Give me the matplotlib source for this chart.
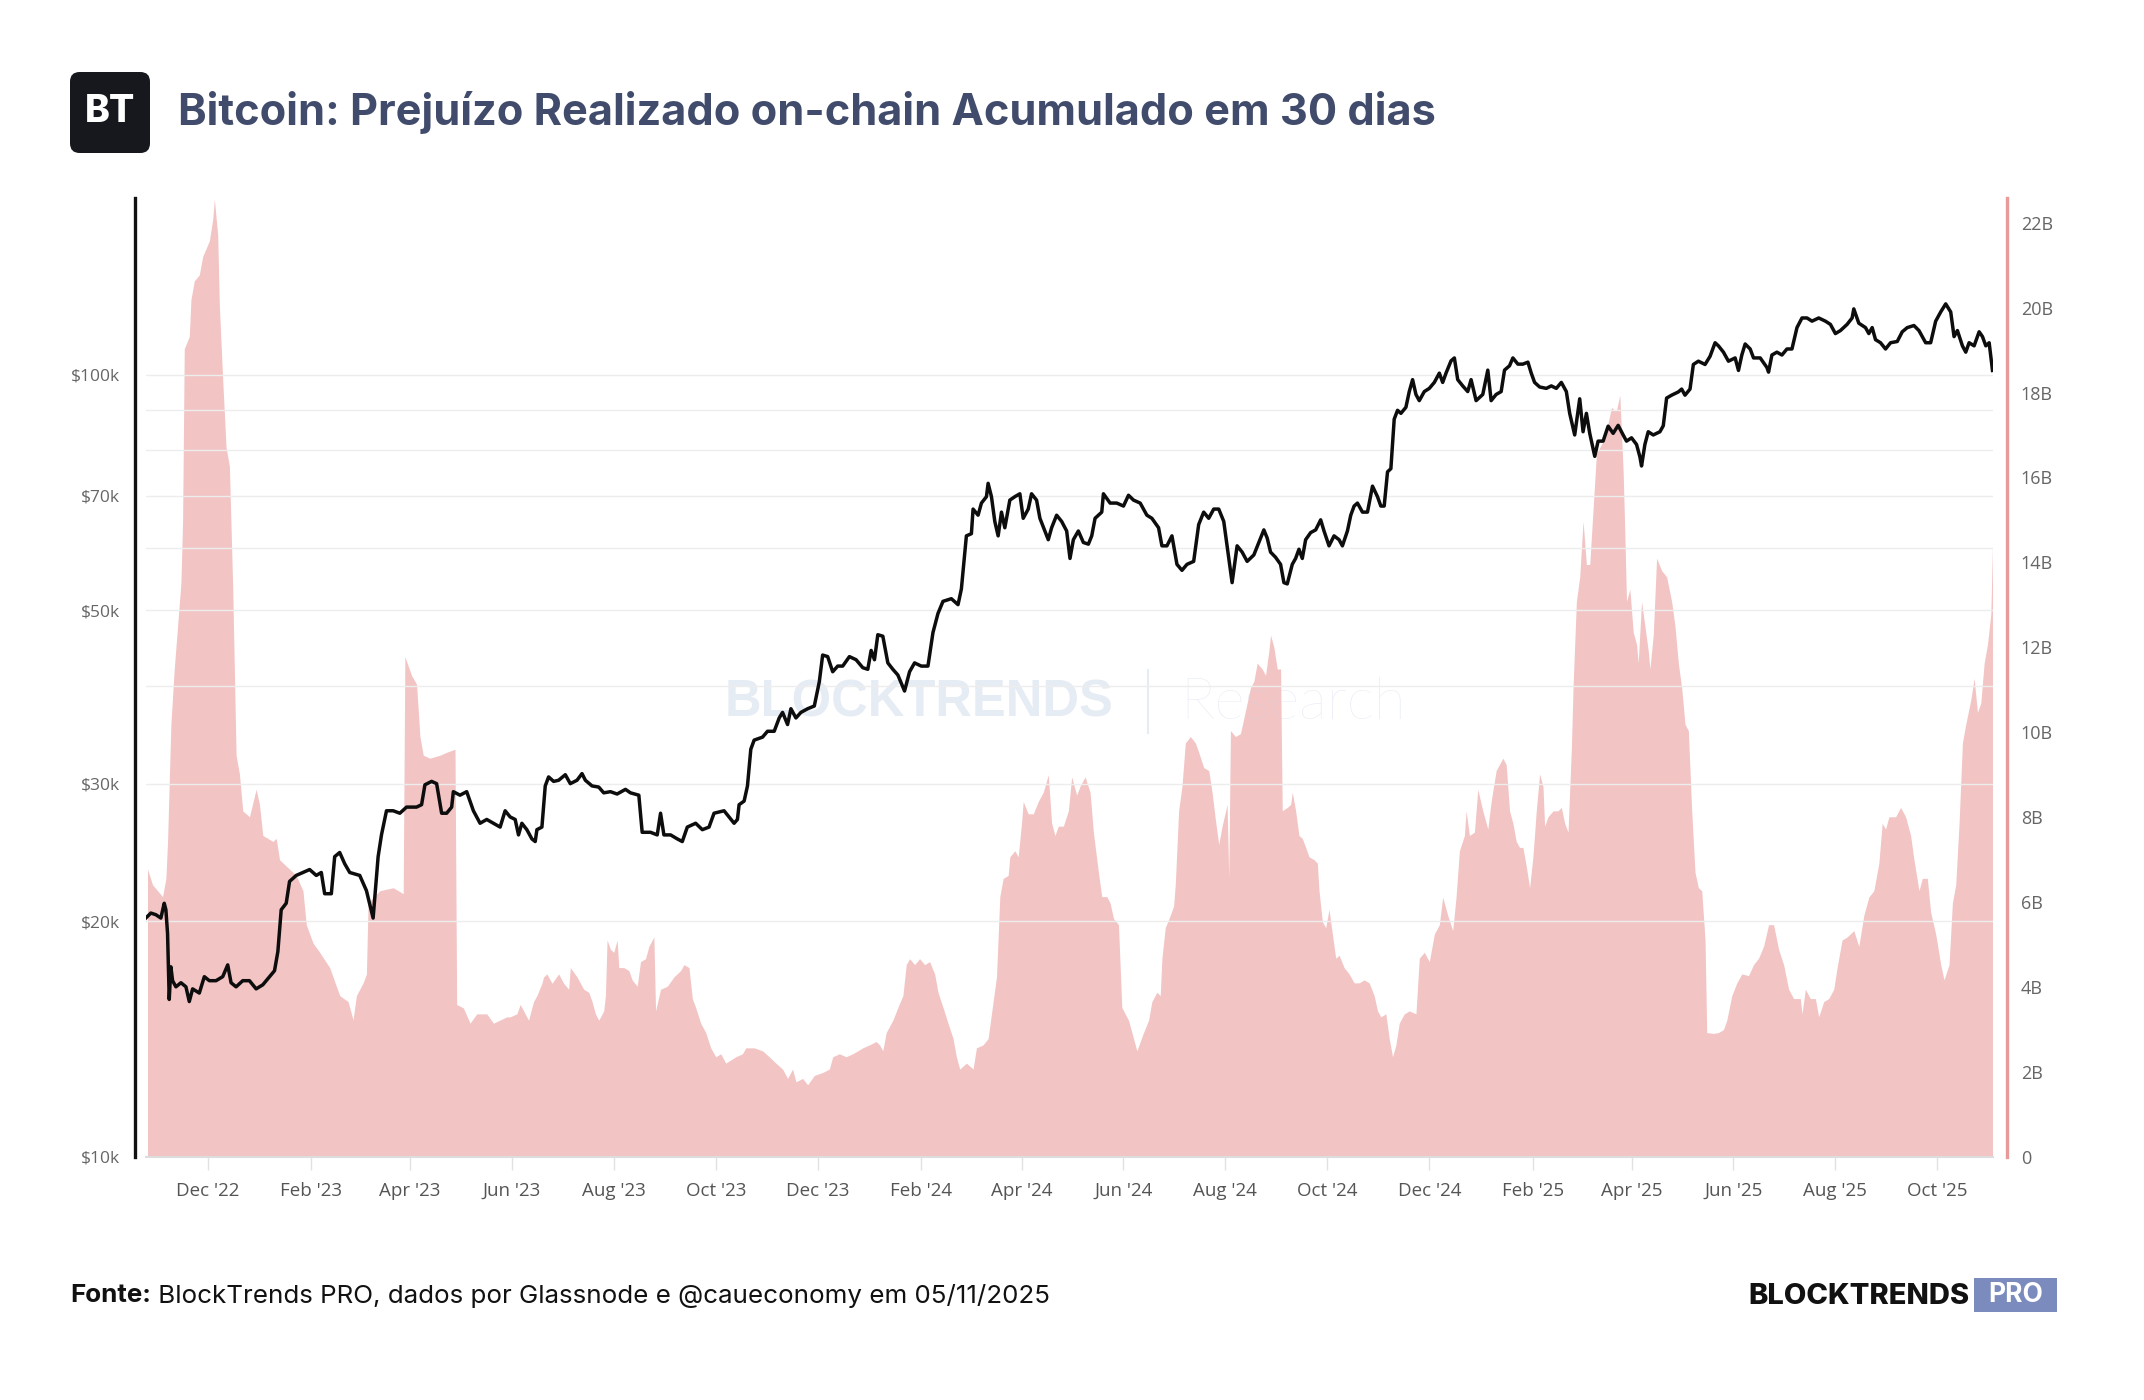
import numpy as np
import pandas as pd
import matplotlib
matplotlib.use("Agg")
import matplotlib.pyplot as plt
import matplotlib.dates as mdates
from matplotlib.patches import FancyBboxPatch
from matplotlib.lines import Line2D
from matplotlib.ticker import FixedLocator, NullFormatter

# BTC price (USD thousands), x = days since 2022-12-01
price_day = [
    -37, -34, -31, -28, -26, -25, -24, -23, -22, -21, -19, -16, -13, -11, -9, -5, -2, 1, 5, 9,
    12, 14, 17, 21, 25, 29, 33, 37, 40, 42, 44, 47, 49, 53, 57, 61, 65, 68, 70, 74,
    76, 79, 82, 85, 91, 95, 99, 102, 104, 107, 111, 115, 119, 125, 128, 130, 134, 137, 140, 143,
    146, 147, 151, 155, 159, 163, 167, 171, 175, 178,
    181, 184, 186, 188, 191, 194, 196, 197, 200, 202, 204, 207, 210, 214, 217, 221, 224, 226, 230, 234,
    237, 241, 245, 250, 253, 258, 260, 265, 269, 271, 273, 277, 281, 284, 287, 292, 296, 300, 303, 309,
    312, 315, 317, 318, 321, 323, 325, 327, 332, 335, 339, 342, 344, 347, 349, 352, 355, 359, 363, 366,
    368, 371, 374, 377, 380, 384, 388, 392, 395, 397, 399, 401, 404,
    407, 410, 413, 417, 420, 423, 427, 431, 434, 437, 440, 445, 449, 451, 454, 457, 458, 461, 463, 466,
    467, 469, 471, 473, 475, 477, 480, 483, 486, 488, 491, 493, 496, 498, 501, 503, 505, 508, 511, 514,
    516, 518, 521, 524, 527, 529, 531, 535, 536, 540, 544, 548, 551, 554, 558, 562, 565, 569, 571, 574,
    577, 580, 583, 586, 590, 593, 596, 599, 602, 605, 608, 611, 613, 616, 619, 622, 626, 629,
    632, 634, 636, 639, 642, 644, 646, 649, 651, 653, 655, 657, 660, 663, 666, 668, 671, 674, 677, 679,
    682, 684, 686, 688, 691, 694, 697, 700, 702, 704, 706, 708, 710, 712, 714, 717, 719, 721, 723, 725,
    728, 731, 734, 737, 739, 741, 744, 746, 748, 751, 754, 756, 759, 763, 766, 768, 771, 774, 776, 779,
    781, 784, 787, 790, 792, 794, 797, 801, 804, 807, 810, 813, 815, 818, 821, 823, 825, 827, 830, 832,
    835, 838, 841, 844,
    847, 849, 852, 855, 857, 858, 860, 862, 865, 869, 871, 873, 876, 880, 882, 884, 887, 889, 892, 896,
    899, 902, 904, 907, 910, 914, 916, 918, 920, 923, 925, 929, 933, 934, 936, 939, 942, 945, 948, 951,
    954, 957, 960, 964, 968, 971, 974, 977, 981, 984, 985, 988, 992, 994, 996, 998, 1001, 1004, 1007, 1011,
    1014, 1017, 1021, 1024, 1028, 1031, 1034, 1037, 1040, 1043, 1045, 1047, 1050, 1052, 1054, 1057, 1060, 1062, 1064, 1066,
    1068,
]
price_k = [
    20.2, 20.5, 20.4, 20.2, 21.1, 20.7, 19.3, 15.9, 17.5, 16.8, 16.5, 16.7, 16.5, 15.8, 16.4, 16.2, 17.0, 16.8, 16.8, 17.0,
    17.6, 16.7, 16.5, 16.8, 16.8, 16.4, 16.6, 17.0, 17.3, 18.3, 20.7, 21.1, 22.5, 22.9, 23.1, 23.3, 22.9, 23.1, 21.7, 21.7,
    24.2, 24.5, 23.7, 23.1, 22.9, 21.9, 20.2, 24.2, 25.8, 27.7, 27.7, 27.5, 28.0, 28.0, 28.2, 29.9, 30.2, 30.0, 27.5, 27.5,
    28.0, 29.3, 29.0, 29.3, 27.7, 26.7, 27.0, 26.7, 26.4, 27.7,
    27.2, 27.0, 25.8, 26.7, 26.2, 25.5, 25.3, 26.2, 26.4, 29.8, 30.6, 30.2, 30.3, 30.8, 30.0, 30.3, 30.9, 30.3, 29.8, 29.7,
    29.2, 29.3, 29.1, 29.5, 29.2, 29.0, 26.0, 26.0, 25.8, 27.5, 25.8, 25.8, 25.5, 25.3, 26.4, 26.7, 26.2, 26.4, 27.5, 27.7,
    27.2, 26.7, 27.0, 28.2, 28.5, 29.8, 33.2, 34.1, 34.4, 35.0, 35.0, 36.4, 37.0, 35.7, 37.4, 36.4, 37.0, 37.4, 37.7, 40.5,
    43.8, 43.6, 41.7, 42.4, 42.4, 43.6, 43.2, 42.2, 42.0, 44.4, 43.2, 46.5, 46.3,
    42.8, 42.0, 41.3, 39.4, 41.7, 42.8, 42.4, 42.4, 46.8, 49.5, 51.3, 51.7, 50.8, 53.2, 62.2, 62.6, 67.3, 66.1, 68.5, 69.8,
    72.6, 69.8, 64.9, 62.2, 66.7, 63.7, 69.1, 69.8, 70.4, 65.5, 67.3, 70.4, 69.1, 65.5, 63.1, 61.5, 63.7, 66.1, 64.9, 63.1,
    58.2, 61.5, 63.1, 61.0, 60.7, 62.2, 65.5, 66.7, 70.4, 68.5, 68.5, 67.9, 70.1, 69.1, 68.5, 66.1, 65.5, 63.7, 60.4, 60.4,
    62.2, 57.2, 56.2, 57.2, 57.7, 64.3, 66.7, 65.5, 67.3, 67.3, 64.9, 58.2, 54.2, 60.4, 59.3, 57.7, 58.8, 61.0,
    63.3, 61.8, 59.3, 58.4, 57.2, 54.2, 54.0, 57.2, 58.2, 59.8, 58.2, 61.5, 62.8, 63.3, 65.2, 63.1, 60.4, 62.2, 61.5, 60.4,
    63.1, 66.1, 67.9, 68.5, 66.7, 66.7, 72.0, 69.8, 67.9, 67.9, 75.1, 75.8, 87.7, 90.0, 89.2, 90.8, 95.1, 98.5, 94.3, 92.6,
    95.1, 96.0, 97.7, 100.4, 97.7, 100.4, 104.1, 105.0, 98.5, 96.7, 95.1, 98.5, 92.6, 94.3, 101.3, 92.6, 94.3, 95.1, 101.3, 102.6,
    105.0, 103.1, 103.1, 103.7, 100.4, 97.7, 96.4, 96.0, 96.7, 96.0, 97.7, 95.1, 89.2, 83.7, 93.1, 84.5, 89.2, 84.1, 78.6, 82.2,
    82.2, 85.9, 84.1, 86.1,
    83.7, 82.2, 83.0, 81.4, 78.5, 76.4, 81.4, 84.5, 83.7, 84.5, 86.0, 93.3, 94.1, 95.0, 95.8, 94.1, 95.8, 103.0, 104.0, 103.0,
    105.5, 109.8, 108.8, 106.8, 104.0, 105.0, 101.2, 105.9, 109.4, 107.8, 105.0, 105.0, 102.1, 100.7, 105.9, 106.8, 105.9, 107.8, 107.8, 114.8,
    118.1, 118.1, 117.0, 118.1, 117.0, 115.9, 112.8, 113.8, 115.9, 118.1, 121.3, 116.3, 114.8, 112.8, 114.8, 110.8, 109.8, 107.8, 109.8, 110.2,
    113.4, 114.8, 115.5, 113.8, 109.8, 109.8, 117.0, 120.2, 123.1, 120.2, 111.8, 113.8, 108.8, 106.8, 109.8, 108.8, 113.4, 111.8, 108.8, 109.8,
    101.2,
]

# 30-day accumulated realized loss (USD billions), x = days since 2022-12-01
loss_day = [
    -36, -33, -27, -25, -24, -22, -20, -18, -16, -15, -14, -11, -10, -8, -5, -3, 1, 3, 4, 6,
    7, 9, 11, 13, 15, 17, 19, 21, 25, 29, 31, 33, 39, 41, 43, 47, 53, 57, 59, 63,
    67, 73, 79, 84, 87, 89, 93, 95, 96, 103, 111, 117, 118, 122, 125, 127, 129, 133, 139, 143,
    148, 149, 153, 157, 161, 167, 171, 179,
    181, 185, 187, 190, 192, 195, 197, 200, 201, 203, 206, 210, 213, 216, 217, 221, 225, 228, 230, 232,
    234, 237, 238, 239, 241, 243, 245, 246, 249, 252, 254, 257, 259, 262, 264, 267, 268, 271, 275, 279,
    283, 285, 288, 290, 292, 295, 298, 301, 304, 307, 310, 316, 320, 322, 327, 332, 336, 340, 344, 347,
    350, 352, 356, 359, 363, 368, 372, 374, 378, 382, 386, 392, 396, 400,
    402, 404, 406, 410, 413, 416, 418, 420, 423, 426, 429, 432, 435, 437, 440, 443, 446, 448, 450, 454,
    458, 460, 464, 467, 469, 472, 474, 476, 479, 480, 483, 485, 487, 488, 491, 494, 497, 500, 503, 505,
    507, 509, 512, 515, 517, 520, 522, 525, 528, 530, 533, 535, 538, 540, 542, 545, 547, 551, 554, 556,
    560, 563, 565, 568, 570, 571, 573, 576, 578, 579, 581, 583, 585, 588, 591, 593, 596, 599, 601, 603,
    605, 607, 610, 611, 612, 615, 618, 620,
    624, 626, 628, 631, 633, 635, 636, 638, 640, 642, 643, 646, 648, 649, 651, 653, 655, 657, 659, 662,
    664, 665, 667, 669, 671, 673, 675, 677, 680, 683, 686, 689, 692, 695, 698, 700, 702, 705, 707, 709,
    711, 713, 716, 719, 723, 725, 728, 731, 734, 737, 739, 742, 745, 747, 749, 752, 753, 755, 758, 760,
    763, 766, 768, 771, 775, 777, 779, 781, 783, 785, 787, 789, 791, 793, 795, 797, 799, 800, 802, 805,
    808, 810, 812, 814, 816, 817, 819, 821, 823, 825, 827, 829, 831, 835, 838, 840, 842, 843, 845,
    847, 848, 849, 851, 853, 855, 856, 858, 860, 862, 863, 865, 867, 870, 873, 876, 878, 880, 882, 884,
    886, 888, 890, 892, 894, 896, 897, 901, 904, 907, 909, 912, 915, 918, 922, 925, 928, 931, 934, 937,
    940, 943, 946, 949, 953, 954, 956, 959, 962, 964, 967, 970, 973, 975, 978, 981, 985, 988, 991, 994,
    997, 1000, 1002, 1004, 1006, 1010, 1013, 1016, 1019, 1021, 1024, 1026, 1029, 1031, 1034, 1037, 1039, 1042, 1044, 1046,
    1048, 1050, 1052, 1055, 1057, 1059, 1061, 1063, 1065, 1067, 1068,
]
loss_bn = [
    6.78, 6.41, 6.13, 6.56, 7.43, 10.19, 11.49, 12.5, 13.52, 14.97, 19.03, 19.32, 20.19, 20.63, 20.77, 21.2, 21.57, 22.07, 22.55, 21.71,
    20.04, 18.3, 16.71, 16.27, 13.38, 9.46, 9.02, 8.15, 8.01, 8.66, 8.3, 7.57, 7.43, 7.5, 7.0, 6.85, 6.63, 6.27, 5.47, 5.04,
    4.82, 4.46, 3.8, 3.66, 3.23, 3.8, 4.1, 4.31, 5.98, 6.27, 6.34, 6.2, 11.78, 11.34, 11.13, 9.9, 9.46, 9.39, 9.46, 9.53,
    9.6, 3.59, 3.51, 3.15, 3.37, 3.37, 3.15, 3.3,
    3.30, 3.37, 3.59, 3.37, 3.22, 3.66, 3.80, 4.09, 4.24, 4.31, 4.09, 4.31, 4.09, 3.95, 4.46, 4.24, 3.95, 3.88, 3.66, 3.37,
    3.22, 3.44, 3.80, 5.11, 4.89, 4.82, 5.11, 4.46, 4.46, 4.39, 4.17, 4.02, 4.60, 4.67, 4.96, 5.18, 3.44, 3.95, 4.02, 4.24,
    4.39, 4.53, 4.46, 3.73, 3.52, 3.15, 2.93, 2.57, 2.36, 2.43, 2.21, 2.36, 2.43, 2.57, 2.57, 2.50, 2.36, 2.21, 2.07, 1.85,
    2.07, 1.77, 1.85, 1.70, 1.92, 1.99, 2.07, 2.36, 2.43, 2.36, 2.43, 2.57, 2.64, 2.72,
    2.64, 2.50, 2.93, 3.22, 3.52, 3.80, 4.53, 4.67, 4.53, 4.67, 4.53, 4.60, 4.31, 3.88, 3.52, 3.15, 2.79, 2.36, 2.07, 2.21,
    2.07, 2.57, 2.64, 2.79, 3.37, 4.24, 6.13, 6.56, 6.63, 7.07, 7.21, 7.07, 7.86, 8.37, 8.08, 8.08, 8.37, 8.59, 9.0, 7.86,
    7.57, 7.79, 7.79, 8.15, 8.95, 8.52, 8.73, 8.95, 8.59, 7.64, 6.70, 6.13, 6.13, 5.98, 5.62, 5.47, 3.52, 3.22, 2.79, 2.50,
    2.93, 3.22, 3.66, 3.88, 3.80, 4.68, 5.40, 5.69, 5.91, 6.42, 8.15, 8.73, 9.75, 9.90, 9.75, 9.53, 9.17, 9.10, 8.59, 7.94,
    7.36, 7.79, 8.30, 6.56, 10.04, 9.90, 9.97, 10.33,
    11.05, 11.2, 11.63, 11.49, 11.34, 11.92, 12.29, 12.0, 11.49, 11.49, 8.15, 8.23, 8.30, 8.59, 8.15, 7.57, 7.50, 7.29, 7.07, 7.0,
    6.92, 6.27, 5.54, 5.40, 5.83, 5.25, 4.68, 4.75, 4.46, 4.31, 4.10, 4.10, 4.17, 4.10, 3.80, 3.44, 3.30, 3.37, 2.79, 2.36,
    2.64, 3.15, 3.37, 3.44, 3.37, 4.68, 4.82, 4.60, 5.25, 5.47, 6.12, 5.69, 5.33, 6.12, 7.21, 7.57, 8.15, 7.57, 7.65, 8.66,
    8.15, 7.72, 8.37, 9.10, 9.39, 9.24, 8.15, 7.86, 7.43, 7.29, 7.29, 6.85, 6.34, 7.07, 8.15, 9.02, 8.73, 7.79, 8.01, 8.15,
    8.15, 8.23, 7.86, 7.65, 9.61, 11.05, 13.08, 13.66, 14.97, 13.95, 13.95, 15.26, 16.56, 16.85, 17.29, 17.65, 17.58, 17.58, 17.94,
    16.13, 14.68, 13.08, 13.37, 12.36, 12.07, 11.63, 13.08, 12.5, 11.92, 11.49, 12.29, 14.1, 13.81, 13.66, 13.08, 12.5, 11.63, 11.05, 10.19,
    10.04, 8.15, 6.70, 6.34, 6.27, 5.11, 2.93, 2.91, 2.93, 3.0, 3.22, 3.80, 4.10, 4.31, 4.27, 4.53, 4.68, 4.96, 5.47, 5.47,
    4.89, 4.53, 3.95, 3.73, 3.73, 3.37, 3.95, 3.73, 3.73, 3.30, 3.66, 3.73, 3.95, 4.46, 5.11, 5.18, 5.33, 4.96, 5.69, 6.12,
    6.27, 6.92, 7.86, 7.72, 8.01, 8.01, 8.23, 8.01, 7.57, 7.0, 6.27, 6.56, 6.56, 5.76, 5.25, 4.53, 4.17, 4.53, 5.98, 6.41,
    7.86, 9.75, 10.19, 10.76, 11.27, 10.47, 10.69, 11.63, 12.07, 12.79, 14.39,
]

price_ticks = [10, 20, 30, 50, 70, 100]
price_grid = [40, 60, 80, 90]
loss_ticks = [0, 2, 4, 6, 8, 10, 12, 14, 16, 18, 20, 22]

title = "Bitcoin: Prejuízo Realizado on-chain Acumulado em 30 dias"
source = " BlockTrends PRO, dados por Glassnode e @caueconomy em 05/11/2025"

W, H = 2144, 1400
base = pd.Timestamp("2022-12-01")
px = base + pd.to_timedelta(price_day, unit="D")
lx = base + pd.to_timedelta(loss_day, unit="D")

plt.rcParams["font.family"] = ["Open Sans", "DejaVu Sans"]

fig = plt.figure(figsize=(W / 100, H / 100), dpi=100)
fig.patch.set_facecolor("white")

ax = fig.add_axes([146 / W, 1 - 1157 / H, (1993 - 146) / W, (1157 - 198) / H])
ax2 = ax.twinx()

# loss area (right axis), drawn under the price axis
ax2.fill_between(lx, loss_bn, 0, color="#f2c4c4", lw=0, zorder=1)
ax2.set_ylim(0, 22.58)
ax2.yaxis.set_major_locator(FixedLocator(loss_ticks))
ax2.set_yticklabels(["0" if v == 0 else f"{v}B" for v in loss_ticks])
ax2.tick_params(axis="y", length=0, pad=10, labelsize=13, colors="#666666")
for s in ["top", "left", "bottom"]:
    ax2.spines[s].set_visible(False)
ax2.spines["right"].set_position(("outward", 10))
ax2.spines["right"].set_color("#e89a9a")
ax2.spines["right"].set_linewidth(2.4)

# watermark over the area but under the price line
wm = "#c9d5e8"
ax2.text(725 / W, 1 - 703 / H, "BLOCKTRENDS", transform=fig.transFigure, fontsize=36.5,
         fontweight="bold", family="Liberation Sans", color=wm, alpha=0.45,
         ha="left", va="center", zorder=5)
ax2.add_artist(Line2D([1148 / W, 1148 / W], [1 - 670 / H, 1 - 733 / H], transform=fig.transFigure,
                      color=wm, alpha=0.45, lw=1.5, zorder=5))
ax2.text(1180 / W, 1 - 703 / H, "Research", transform=fig.transFigure, fontsize=42,
         fontweight="light", family="Lato", color=wm, alpha=0.45,
         ha="left", va="center", zorder=5)

ax.set_zorder(ax2.get_zorder() + 1)
ax.patch.set_visible(False)
ax.plot(px, np.array(price_k) * 1000, color="#0d0d0d", lw=2.5, solid_joinstyle="round")
ax.set_yscale("log")
ax.set_ylim(1e4, 1.681e5)
ax.yaxis.set_major_locator(FixedLocator([v * 1000 for v in price_ticks]))
ax.yaxis.set_minor_locator(FixedLocator([v * 1000 for v in price_grid]))
ax.set_yticklabels([f"${v}k" for v in price_ticks])
ax.yaxis.set_minor_formatter(NullFormatter())
ax.grid(axis="y", which="both", color="#ededed", lw=1)
ax.tick_params(axis="y", which="both", length=0, pad=11, labelsize=12.5, colors="#666666")

ax.set_xlim(base + pd.Timedelta(days=-36.9), base + pd.Timedelta(days=1068.3))
ax.xaxis.set_major_locator(mdates.MonthLocator(bymonth=[2, 4, 6, 8, 10, 12]))
ax.xaxis.set_major_formatter(mdates.DateFormatter("%b '%y"))
ax.tick_params(axis="x", length=9, width=1, color="#e2e2e2", pad=9, labelsize=13.5,
               labelcolor="#555555")

ax.spines["top"].set_visible(False)
ax.spines["right"].set_visible(False)
ax.spines["left"].set_position(("outward", 8))
ax.spines["left"].set_color("#111111")
ax.spines["left"].set_linewidth(2.4)
ax.spines["bottom"].set_color("#dddddd")
ax.spines["bottom"].set_linewidth(1.5)

# header logo and title
lax = fig.add_axes([70 / W, 1 - 153 / H, 80 / W, 81 / H])
lax.set_axis_off()
lax.add_patch(FancyBboxPatch((0, 0), 1, 1, boxstyle="round,pad=0,rounding_size=0.12",
                             fc="#16181d", ec="none", transform=lax.transAxes))
lax.text(0.5, 0.5, "BT", color="white", fontsize=27, fontweight="heavy", family="Inter",
         ha="center", va="center", transform=lax.transAxes)
fig.text(178 / W, 1 - 113 / H, title, fontsize=31.2, fontweight="bold", family="Inter",
         color="#414b6b", ha="left", va="center")

# footer
t1 = fig.text(70 / W, 1 - 1296 / H, "Fonte:", fontsize=18.7, fontweight="bold", family="Inter",
              color="#111111", ha="left", va="center")
fig.canvas.draw()
bb = t1.get_window_extent()
fig.text(bb.x1 / W, 1 - 1296 / H, source, fontsize=18.7, family="Inter",
         color="#111111", ha="left", va="center")
fig.text(1970 / W, 1 - 1296 / H, "BLOCKTRENDS", fontsize=21, fontweight="heavy", family="Inter",
         color="#111111", ha="right", va="center")
pax = fig.add_axes([1974 / W, 1 - 1312 / H, 83 / W, 34 / H])
pax.set_axis_off()
pax.add_patch(plt.Rectangle((0, 0), 1, 1, fc="#7b8bbd", ec="none", transform=pax.transAxes))
pax.text(0.5, 0.5, "PRO", color="white", fontsize=19, fontweight="bold", family="Inter",
         ha="center", va="center", transform=pax.transAxes)

fig.savefig("out.png", dpi=100, facecolor="white")
